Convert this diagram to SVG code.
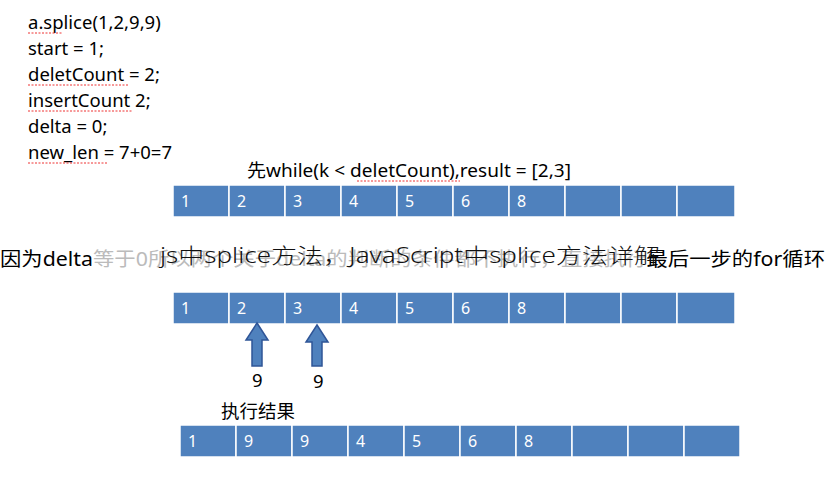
<svg xmlns="http://www.w3.org/2000/svg" width="827" height="490" viewBox="0 0 827 490">
<style>
.t{font-family:"Noto Sans","Noto Sans CJK SC",sans-serif;font-size:18.5px;fill:#000}
.c rect{fill:#4f81bd;stroke:#fff;stroke-width:1.5}
.c text{font-family:"Noto Sans",sans-serif;font-size:16px;fill:#fff}
.u{stroke:#e33;stroke-width:1;stroke-dasharray:2 1.5;fill:none}
.ar{fill:#4f81bd;stroke:#2f5597;stroke-width:1.5}
</style>
<rect width="827" height="490" fill="#fff"/>
<g id="code" class="t">
<text x="28" y="29">a.splice(1,2,9,9)</text>
<text x="28" y="55">start = 1;</text>
<text x="28" y="81">deletCount = 2;</text>
<text x="28" y="107">insertCount 2;</text>
<text x="28" y="133">delta = 0;</text>
<text x="28" y="159">new_len = 7+0=7</text>
<path class="u" d="M28 33H62M28 85H128M28 111H132M28 163H108"/>
</g>
<g id="caption1"><text class="t" x="247" y="177" textLength="324" lengthAdjust="spacingAndGlyphs">先while(k &lt; deletCount),result = [2,3]</text>
<path class="u" d="M357 181H460"/></g>
<g id="row1" class="c">
<rect x="173" y="185" width="56" height="32"/><rect x="229" y="185" width="56" height="32"/><rect x="285" y="185" width="56" height="32"/><rect x="341" y="185" width="56" height="32"/><rect x="397" y="185" width="56" height="32"/><rect x="453" y="185" width="56" height="32"/><rect x="509" y="185" width="56" height="32"/><rect x="565" y="185" width="56" height="32"/><rect x="621" y="185" width="56" height="32"/><rect x="677" y="185" width="58" height="32"/>
<text x="181" y="207">1</text><text x="237" y="207">2</text><text x="293" y="207">3</text><text x="349" y="207">4</text><text x="405" y="207">5</text><text x="461" y="207">6</text><text x="517" y="207">8</text>
</g>
<g id="note">
<text x="0" y="266" textLength="825" lengthAdjust="spacingAndGlyphs" style="font-family:'Noto Sans','Noto Sans CJK SC',sans-serif;font-size:19px" fill="#000">因为delta<tspan fill="#bbb">等于0所以两个关于delta的判断的条件都不执行，直接执行</tspan>最后一步的for循环</text>
<text x="160" y="263" textLength="500" lengthAdjust="spacingAndGlyphs" style="font-family:'Noto Sans','Noto Sans CJK SC',sans-serif;font-size:21px;font-weight:300" fill="#111">js中splice方法，JavaScript中splice方法详解</text>
</g>
<g id="row2" class="c">
<rect x="173" y="292" width="56" height="32"/><rect x="229" y="292" width="56" height="32"/><rect x="285" y="292" width="56" height="32"/><rect x="341" y="292" width="56" height="32"/><rect x="397" y="292" width="56" height="32"/><rect x="453" y="292" width="56" height="32"/><rect x="509" y="292" width="56" height="32"/><rect x="565" y="292" width="56" height="32"/><rect x="621" y="292" width="56" height="32"/><rect x="677" y="292" width="58" height="32"/>
<text x="181" y="314">1</text><text x="237" y="314">2</text><text x="293" y="314">3</text><text x="349" y="314">4</text><text x="405" y="314">5</text><text x="461" y="314">6</text><text x="517" y="314">8</text>
</g>
<g id="arrows">
<path class="ar" d="M257 323L246 340H252V366H262V340H268Z"/>
<path class="ar" d="M317 325L306 342H312V366H322V342H328Z"/>
</g>
<g id="labels" class="t"><text x="252" y="387">9</text><text x="313" y="388">9</text><text x="221" y="418">执行结果</text></g>
<g id="row3" class="c">
<rect x="180" y="425" width="56" height="32"/><rect x="236" y="425" width="56" height="32"/><rect x="292" y="425" width="56" height="32"/><rect x="348" y="425" width="56" height="32"/><rect x="404" y="425" width="56" height="32"/><rect x="460" y="425" width="56" height="32"/><rect x="516" y="425" width="56" height="32"/><rect x="572" y="425" width="56" height="32"/><rect x="628" y="425" width="56" height="32"/><rect x="684" y="425" width="56" height="32"/>
<text x="188" y="447">1</text><text x="244" y="447">9</text><text x="300" y="447">9</text><text x="356" y="447">4</text><text x="412" y="447">5</text><text x="468" y="447">6</text><text x="524" y="447">8</text>
</g>
</svg>
